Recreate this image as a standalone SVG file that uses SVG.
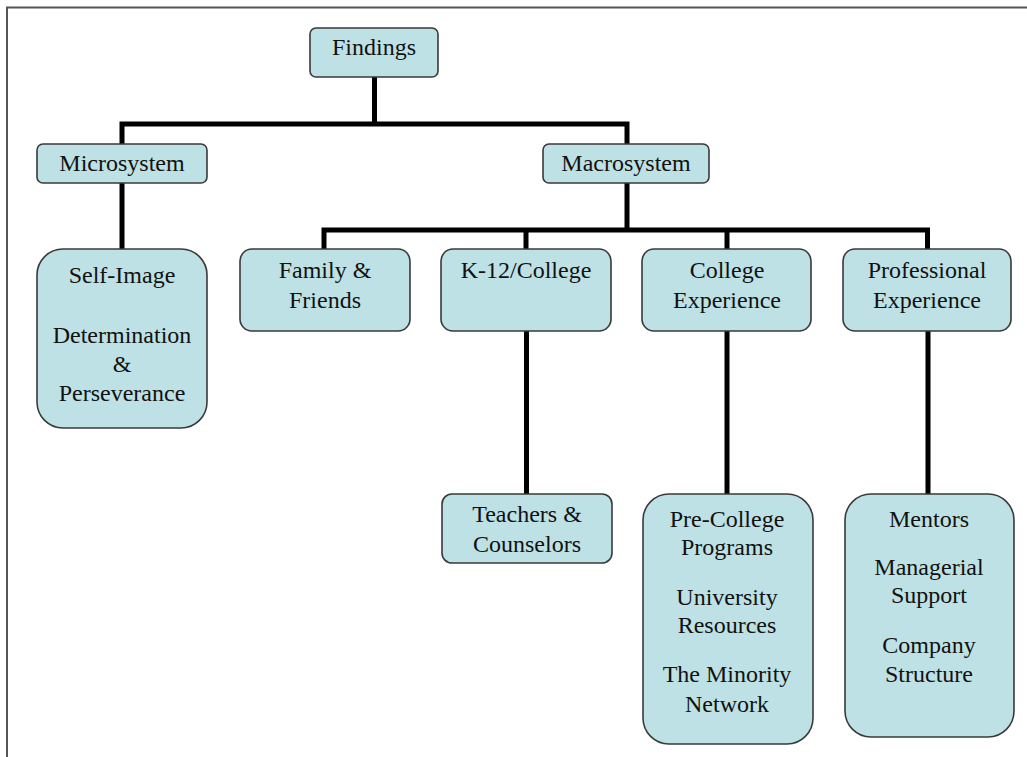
<svg xmlns="http://www.w3.org/2000/svg" width="1027" height="757" viewBox="0 0 1027 757">
<style>
.box{fill:#bde1e4;stroke:#3a3a3a;stroke-width:1.6}
.t{font-family:'Liberation Serif','DejaVu Serif',serif;font-size:24px;fill:#111;text-anchor:middle}
.c{fill:none;stroke:#000;stroke-width:5;stroke-linejoin:miter;stroke-linecap:butt}
.frame{fill:none;stroke:#555;stroke-width:2}
</style>
<rect x="0" y="0" width="1027" height="757" fill="#fff"/>
<path class="frame" d="M7,757 V7.5 H1027"/>
<g id="connectors">
<path class="c" d="M374.5,77 V124 M122,146 V124 H627 V146"/>
<path class="c" d="M122,183 V250"/>
<path class="c" d="M627,183 V230 M324,250 V230 H927.5 V250 M526,230 V250 M727,230 V250"/>
<path class="c" d="M526.5,331 V494"/>
<path class="c" d="M727,331 V494"/>
<path class="c" d="M928,331 V494"/>
</g>
<g id="findings"><rect class="box" x="310" y="28" width="128" height="49" rx="6"/><text class="t" x="374" y="55" font-family="Liberation Serif">Findings</text></g>
<g id="microsystem"><rect class="box" x="37" y="144" width="170" height="39" rx="6"/><text class="t" x="122" y="171">Microsystem</text></g>
<g id="macrosystem"><rect class="box" x="543" y="144" width="166" height="39" rx="6"/><text class="t" x="626" y="171">Macrosystem</text></g>
<g id="self-image"><rect class="box" x="37" y="249" width="170" height="179" rx="26"/>
<text class="t" x="122" y="283">Self-Image</text><text class="t" x="122" y="343">Determination</text><text class="t" x="122" y="372">&amp;</text><text class="t" x="122" y="401">Perseverance</text></g>
<g id="family-friends"><rect class="box" x="240" y="249" width="170" height="82" rx="12"/><text class="t" x="325" y="278">Family &amp;</text><text class="t" x="325" y="308">Friends</text></g>
<g id="k12-college"><rect class="box" x="441" y="249" width="170" height="82" rx="12"/><text class="t" x="526" y="278">K-12/College</text></g>
<g id="college-experience"><rect class="box" x="642" y="249" width="169" height="82" rx="12"/><text class="t" x="727" y="278">College</text><text class="t" x="727" y="308">Experience</text></g>
<g id="professional-experience"><rect class="box" x="843" y="249" width="168" height="82" rx="12"/><text class="t" x="927" y="278">Professional</text><text class="t" x="927" y="308">Experience</text></g>
<g id="teachers-counselors"><rect class="box" x="442" y="494" width="170" height="69" rx="10"/><text class="t" x="527" y="522">Teachers &amp;</text><text class="t" x="527" y="552">Counselors</text></g>
<g id="pre-college"><rect class="box" x="643" y="494" width="170" height="250" rx="26"/>
<text class="t" x="727" y="527">Pre-College</text><text class="t" x="727" y="555">Programs</text><text class="t" x="727" y="605">University</text><text class="t" x="727" y="633">Resources</text><text class="t" x="727" y="682">The Minority</text><text class="t" x="727" y="712">Network</text></g>
<g id="mentors"><rect class="box" x="845" y="494" width="169" height="243" rx="26"/>
<text class="t" x="929" y="527">Mentors</text><text class="t" x="929" y="575">Managerial</text><text class="t" x="929" y="603">Support</text><text class="t" x="929" y="653">Company</text><text class="t" x="929" y="682">Structure</text></g>
</svg>
